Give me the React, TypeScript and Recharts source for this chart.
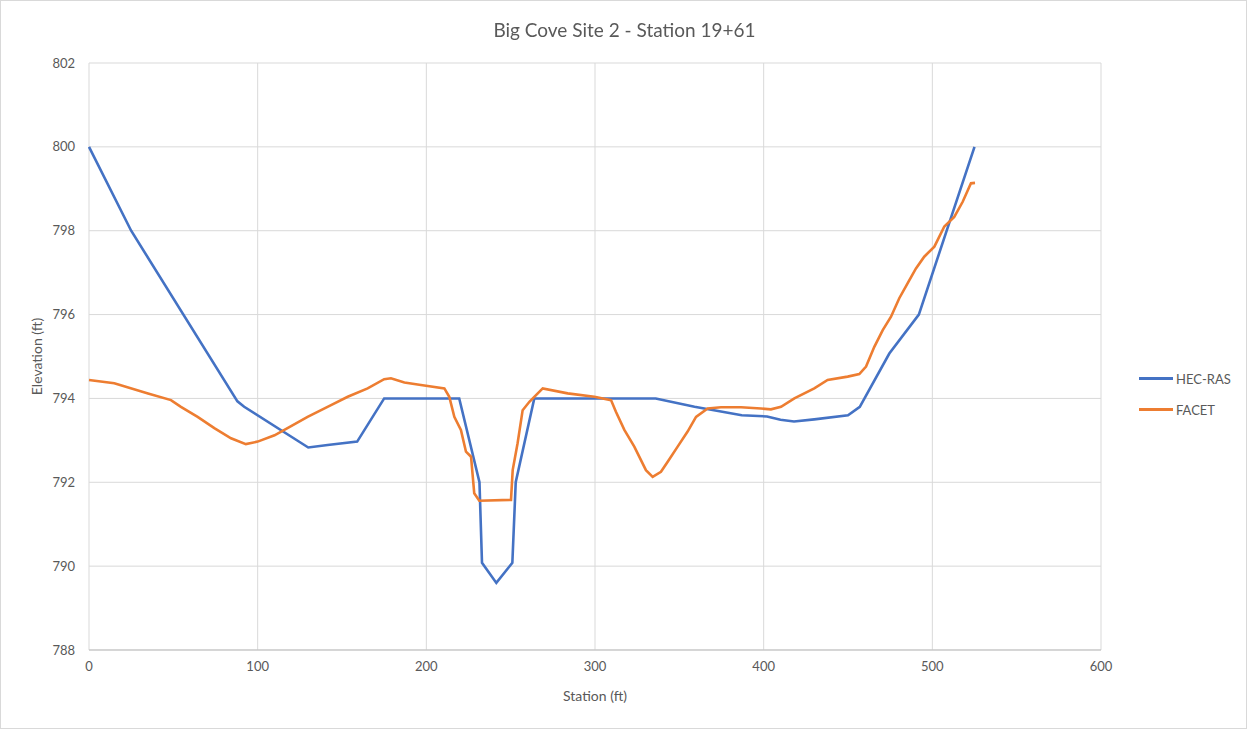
import { LineChart, Line, XAxis, YAxis, CartesianGrid } from "recharts";

const hecStation = [0, 25, 88, 92, 130, 141.5, 159, 175, 219.5, 231.5, 233, 241.5, 251, 253, 264, 336, 359, 387, 402, 410, 418, 430, 450, 457, 474.5, 492, 525];
const hecElev = [800, 798, 793.93, 793.8, 792.83, 792.89, 792.97, 794, 794, 792, 790.08, 789.6, 790.08, 792, 794, 794, 793.8, 793.6, 793.57, 793.49, 793.45, 793.5, 793.6, 793.8, 795.07, 796, 800];

const facetStation = [0, 15, 35, 48.6, 54.5, 64.4, 74.3, 84.2, 93, 100, 110, 117.7, 129.6, 143.5, 153.4, 165.2, 175, 179, 187, 196.8, 210.7, 213.6, 216.6, 220.5, 223.5, 226.5, 228.4, 231.4, 250.2, 251.2, 254.1, 257.1, 261.1, 269, 283.8, 299.6, 309.5, 312.4, 317.4, 323.3, 330.2, 334.2, 339.1, 343.1, 349, 354.9, 359.9, 366.8, 374.7, 386.6, 398.4, 404.3, 410.3, 418.2, 430, 437.9, 449.8, 456.7, 460.7, 465.6, 470.6, 475.5, 480.4, 485.4, 490.3, 495.2, 501.2, 507.1, 513, 518, 522.9, 525.3];
const facetElev = [794.44, 794.36, 794.12, 793.96, 793.8, 793.56, 793.29, 793.05, 792.91, 792.97, 793.12, 793.29, 793.56, 793.84, 794.04, 794.24, 794.46, 794.48, 794.38, 794.32, 794.24, 794.04, 793.56, 793.25, 792.73, 792.61, 791.74, 791.56, 791.58, 792.29, 792.93, 793.72, 793.92, 794.24, 794.12, 794.04, 793.96, 793.68, 793.25, 792.85, 792.29, 792.13, 792.25, 792.49, 792.85, 793.21, 793.56, 793.76, 793.79, 793.79, 793.76, 793.74, 793.8, 794.0, 794.24, 794.44, 794.52, 794.58, 794.76, 795.23, 795.63, 795.95, 796.39, 796.75, 797.1, 797.38, 797.62, 798.1, 798.33, 798.69, 799.13, 799.14];

const xTicks = [0, 100, 200, 300, 400, 500, 600];
const yTicks = [788, 790, 792, 794, 796, 798, 800, 802];

const hecData = hecStation.map((x, i) => ({ x, y: hecElev[i] }));
const facetData = facetStation.map((x, i) => ({ x, y: facetElev[i] }));

const FONT = "Lato, 'Open Sans', sans-serif";
const TXT = "#595959";

const series = [
  { name: "HEC-RAS", color: "#4472C4", data: hecData },
  { name: "FACET", color: "#ED7D31", data: facetData },
];

export default function App() {
  return (
    <div
      style={{
        position: "fixed",
        left: 0,
        top: 0,
        width: 1247,
        height: 729,
        background: "#fff",
        fontFamily: FONT,
        boxSizing: "border-box",
        border: "1px solid #d9d9d9",
      }}
    >
      <div style={{ position: "absolute", left: 0, top: -1, width: 1247, height: 729 }}>
        <LineChart width={1247} height={729} margin={{ top: 63, right: 147, bottom: 24, left: 0 }}>
          <CartesianGrid stroke="#d9d9d9" strokeWidth={1} />
          <XAxis
            type="number"
            dataKey="x"
            domain={[0, 600]}
            ticks={xTicks}
            height={55}
            tickLine={false}
            tickSize={0}
            tickMargin={12}
            axisLine={{ stroke: "#bfbfbf" }}
            tick={{ fill: TXT, fontSize: 13, fontFamily: FONT }}
          />
          <YAxis
            type="number"
            dataKey="y"
            domain={[788, 802]}
            ticks={yTicks}
            width={88}
            tickLine={false}
            tickSize={0}
            tickMargin={14}
            axisLine={false}
            tick={{ fill: TXT, fontSize: 13, fontFamily: FONT }}
          />
          {series.map((s) => (
            <Line
              key={s.name}
              name={s.name}
              data={s.data}
              dataKey="y"
              type="linear"
              stroke={s.color}
              strokeWidth={2.6}
              dot={false}
              isAnimationActive={false}
            />
          ))}
        </LineChart>
      </div>
      <div
        style={{
          position: "absolute",
          left: 0,
          width: 1247,
          top: 17,
          textAlign: "center",
          fontSize: 19,
          color: TXT,
        }}
      >
        Big Cove Site 2 - Station 19+61
      </div>
      <div
        style={{
          position: "absolute",
          left: 88,
          width: 1012,
          top: 686,
          textAlign: "center",
          fontSize: 14,
          color: TXT,
        }}
      >
        Station (ft)
      </div>
      <div
        style={{
          position: "absolute",
          left: 35 - 60,
          top: 356 - 9,
          width: 120,
          textAlign: "center",
          fontSize: 14,
          color: TXT,
          transform: "rotate(-90deg)",
        }}
      >
        Elevation (ft)
      </div>
      <div style={{ position: "absolute", left: 1138, top: 362 }}>
        {series.map((s) => (
          <div key={s.name} style={{ display: "flex", alignItems: "center", height: 31 }}>
            <div style={{ width: 34, height: 3, background: s.color, marginRight: 3 }} />
            <span style={{ fontSize: 13, color: TXT }}>{s.name}</span>
          </div>
        ))}
      </div>
    </div>
  );
}
